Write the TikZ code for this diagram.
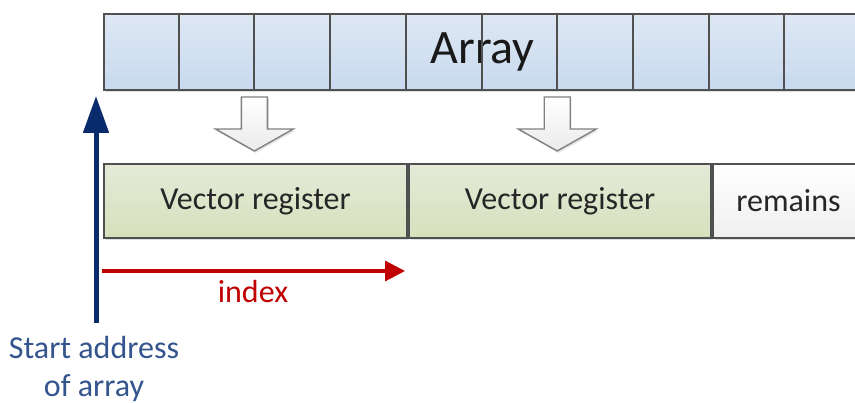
\documentclass[tikz,border=0pt]{standalone}
\usepackage{fontspec}
\setmainfont{Carlito}
\usetikzlibrary{arrows.meta,shadows}
\definecolor{cellA}{HTML}{DEE8F3}
\definecolor{cellB}{HTML}{C8D9EE}
\definecolor{regA}{HTML}{E4EAD8}
\definecolor{regB}{HTML}{D6E0BC}
\definecolor{remA}{HTML}{FFFFFF}
\definecolor{remB}{HTML}{EFEFEF}
\definecolor{bordc}{HTML}{505050}
\definecolor{navyc}{HTML}{0B2C6C}
\definecolor{lblc}{HTML}{34548E}
\definecolor{redc}{HTML}{C00000}
\begin{document}
\begin{tikzpicture}[x=1pt,y=-1pt,
  bordline/.style={draw=bordc, line width=2pt},
  cellrow/.style={bordline, top color=cellA, bottom color=cellB, inner sep=0pt,
     font=\fontsize{48}{50}\selectfont, text=black!90,
     drop shadow={shadow xshift=1.5pt, shadow yshift=-2pt, opacity=0.25}},
  regbox/.style={bordline, top color=regA, bottom color=regB, inner sep=0pt,
     font=\fontsize{32}{34}\selectfont, text=black!85,
     drop shadow={shadow xshift=1.5pt, shadow yshift=-2pt, opacity=0.25}},
  rembox/.style={bordline, top color=remA, bottom color=remB, inner sep=0pt,
     font=\fontsize{32}{34}\selectfont, text=black!85,
     drop shadow={shadow xshift=1.5pt, shadow yshift=-2pt, opacity=0.25}},
  blockarrow/.style={draw=black!50, line width=1.4pt, top color=white, bottom color=black!8,
     drop shadow={shadow xshift=1.5pt, shadow yshift=-2pt, opacity=0.2}},
  navyarrow/.style={draw=navyc, line width=5pt, -{Triangle[width=25pt,length=37pt]}},
  redarrow/.style={draw=redc, line width=3.2pt, -{Triangle[width=20pt,length=20pt]}},
  lbl/.style={font=\fontsize{32}{38}\selectfont, inner sep=0pt}
]
\useasboundingbox (0,0) rectangle (855,403);
\clip (0,0) rectangle (855,403);

% array
\node[cellrow, minimum width=757pt, minimum height=76pt, anchor=north west] (arr) at (103,13) {Array};
\foreach \i in {1,...,9}
  \draw[bordline] ([xshift=\i*75.7pt]arr.north west) -- ([xshift=\i*75.7pt]arr.south west);

% registers
\node[regbox, minimum width=303pt, minimum height=74pt, anchor=north west] (v1) at (103,163) {Vector register};
\node[regbox, minimum width=302pt, minimum height=74pt, anchor=north west] (v2) at (v1.north east) {Vector register};
\node[rembox, minimum width=151pt, minimum height=74pt, anchor=north west] (rem) at (v2.north east) {remains};

% block arrows
\coordinate (b1) at ([xshift=151.4pt]arr.south west);
\coordinate (b2) at ([xshift=454.2pt]arr.south west);
\foreach \b in {b1,b2}
  \draw[blockarrow, shift={(\b)}] (-13,6) -- (13,6) -- (13,38) -- (39,38) -- (0,60) -- (-39,38) -- (-13,38) -- cycle;

% start address
\node[lbl, text=lblc, align=center] (start) at (94,369) {Start address\\of array};
\coordinate (sa) at (96,323);
\coordinate (tipA) at (96,96);
\draw[navyarrow] (sa) -- (tipA);

% index
\coordinate (i0) at (102,271);
\coordinate (i1) at (405,271);
\draw[redarrow] (i0) -- (i1);
\node[lbl, text=redc] (idx) at (253,292) {index};
\end{tikzpicture}
\end{document}
